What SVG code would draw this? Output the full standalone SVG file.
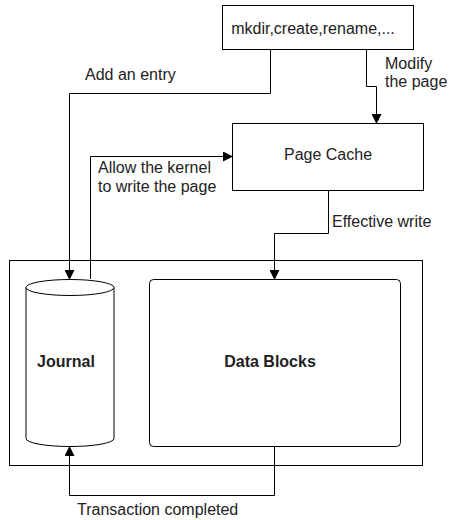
<svg xmlns="http://www.w3.org/2000/svg" width="456" height="520" viewBox="0 0 456 520">
<style>
.box{fill:#fff;stroke:#000;stroke-width:1}
.ln{fill:none;stroke:#000;stroke-width:1}
text{font-family:"Liberation Sans",Arial,sans-serif;font-size:16px;fill:#222}
.b{font-weight:bold}
</style>
<defs>
<marker id="ah" markerWidth="10" markerHeight="10" refX="9" refY="5" orient="auto" markerUnits="userSpaceOnUse">
<path d="M0,0 L10,5 L0,10 Z" fill="#000"/>
</marker>
</defs>
<g id="storage">
<rect class="box" x="9.5" y="260.5" width="413" height="205"/>
</g>
<g id="syscalls">
<rect class="box" x="222.5" y="5.5" width="191" height="44"/>
<text x="313" y="34" text-anchor="middle">mkdir,create,rename,...</text>
</g>
<g id="pagecache">
<rect class="box" x="232.5" y="123.5" width="191" height="67"/>
<text x="328" y="160" text-anchor="middle">Page Cache</text>
</g>
<g id="journal">
<path class="box" d="M26,287.5 L26,438.5 A44,8 0 0 0 114,438.5 L114,287.5"/>
<ellipse class="box" cx="70" cy="287.5" rx="44" ry="8"/>
<text class="b" x="66" y="367" text-anchor="middle">Journal</text>
</g>
<g id="datablocks">
<rect class="box" x="149.5" y="279.5" width="251" height="167" rx="4"/>
<text class="b" x="270" y="367" text-anchor="middle">Data Blocks</text>
</g>
<g id="connectors">
<path class="ln" d="M270.5,49.5 V93.5 H69.5 V279" marker-end="url(#ah)"/>
<path class="ln" d="M366.5,49.5 V86.5 H376.5 V123" marker-end="url(#ah)"/>
<path class="ln" d="M90.5,279 V156.5 H232" marker-end="url(#ah)"/>
<path class="ln" d="M328.5,190.5 V233.5 H274.5 V279" marker-end="url(#ah)"/>
<path class="ln" d="M274.5,446.5 V495.5 H69.5 V447" marker-end="url(#ah)"/>
<text x="85" y="80">Add an entry</text>
<text x="385" y="69">Modify</text>
<text x="385" y="87">the page</text>
<text x="98" y="173">Allow the kernel</text>
<text x="98" y="192">to write the page</text>
<text x="332" y="227">Effective write</text>
<text x="77" y="515">Transaction completed</text>
</g>
</svg>
